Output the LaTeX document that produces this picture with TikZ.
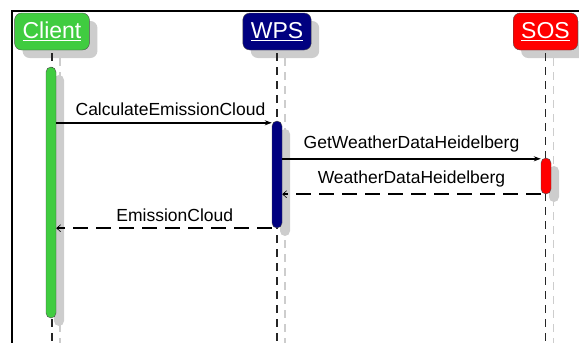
\documentclass[tikz,border=0pt]{standalone}
\usepackage{fontspec}
\setmainfont{Liberation Sans}
\usetikzlibrary{arrows.meta,shadows,calc}
\definecolor{clientgreen}{RGB}{64,204,64}
\definecolor{wpsblue}{RGB}{0,0,128}
\definecolor{sosred}{RGB}{255,0,0}
\definecolor{shadowgray}{RGB}{205,205,205}

\begin{document}
\begin{tikzpicture}
[
	x=1pt, y=-1pt,
	head/.style={rectangle,rounded corners=7pt,draw=black!70,text=white,minimum height=37pt,inner xsep=8pt,font=\fontsize{23}{23}\selectfont,drop shadow={shadow xshift=8pt,shadow yshift=-8pt,fill=shadowgray,opacity=1}},
	bar/.style={rectangle,rounded corners=5pt,draw=black!70,minimum width=10pt,inner sep=0pt,drop shadow={shadow xshift=8pt,shadow yshift=-8pt,fill=shadowgray,opacity=1}},
	lifeline/.style={draw=black!85,line width=1.4pt,dash pattern=on 8pt off 6pt},
	lifeshadow/.style={draw=shadowgray,line width=1.3pt,dash pattern=on 8pt off 6pt},
	msg/.style={line width=1.6pt,-{Stealth[length=7pt,width=5pt]}},
	reply/.style={line width=1.9pt,dash pattern=on 15pt off 8pt,-{Straight Barb[length=4pt,width=7pt,line width=0.6pt]}},
	lbl/.style={above=3pt,inner sep=3pt,font=\fontsize{17.5}{17.5}\selectfont},
]
	\useasboundingbox (0,0) rectangle (579,343);

	% frame
	\draw[line width=2.2pt] (12,343) |- (579,11);

	% heads
	\begin{scope}
		\node[head,fill=clientgreen] (client) at (52,31.5) {\underline{Client}};
		\node[head,fill=wpsblue] (wps) at (277,31.5) {\underline{WPS}};
		\node[head,fill=sosred] (sos) at (545.5,31.5) {\underline{SOS}};
	\end{scope}

	% lifelines
	\begin{scope}
		\coordinate (clientend) at (client.south |- 0,343);
		\coordinate (wpsend) at (wps.south |- 0,343);
		\coordinate (sosend) at (sos.south |- 0,343);
		\draw[lifeshadow] ($(client.south)+(8,8)$) -- ($(clientend)+(8,0)$);
		\draw[lifeshadow] ($(wps.south)+(8,8)$) -- ($(wpsend)+(8,0)$);
		\draw[lifeshadow] ($(sos.south)+(8,8)$) -- ($(sosend)+(8,0)$);
		\draw[lifeline] ($(client.south)+(0,3)$) -- (clientend);
		\draw[lifeline] ($(wps.south)+(0,3)$) -- (wpsend);
		\draw[lifeline] ($(sos.south)+(0,3)$) -- (sosend);
	\end{scope}

	% activations
	\begin{scope}
		\node[bar,fill=clientgreen,minimum height=251pt] (clientbar) at (51,192.5) {};
		\node[bar,fill=wpsblue,minimum height=107pt] (wpsbar) at (277,174.5) {};
		\node[bar,fill=sosred,minimum height=36pt] (sosbar) at (546,176) {};
	\end{scope}

	% messages
	\draw[msg] ($(clientbar.east |- wpsbar.north)+(0,2)$) -- ($(wpsbar.north west)+(0,2)$)
		node[lbl,pos=0.53] {CalculateEmissionCloud};
	\draw[msg] ($(wpsbar.east |- sosbar.north)+(0,1)$) -- ($(sosbar.north west)+(0,1)$)
		node[lbl,midway] {GetWeatherDataHeidelberg};
	\draw[reply] (sosbar.south west) -- (wpsbar.east |- sosbar.south)
		node[lbl,midway] {WeatherDataHeidelberg};
	\draw[reply] (wpsbar.south west) -- (clientbar.east |- wpsbar.south)
		node[lbl,pos=0.45] {EmissionCloud};
\end{tikzpicture}
\end{document}
